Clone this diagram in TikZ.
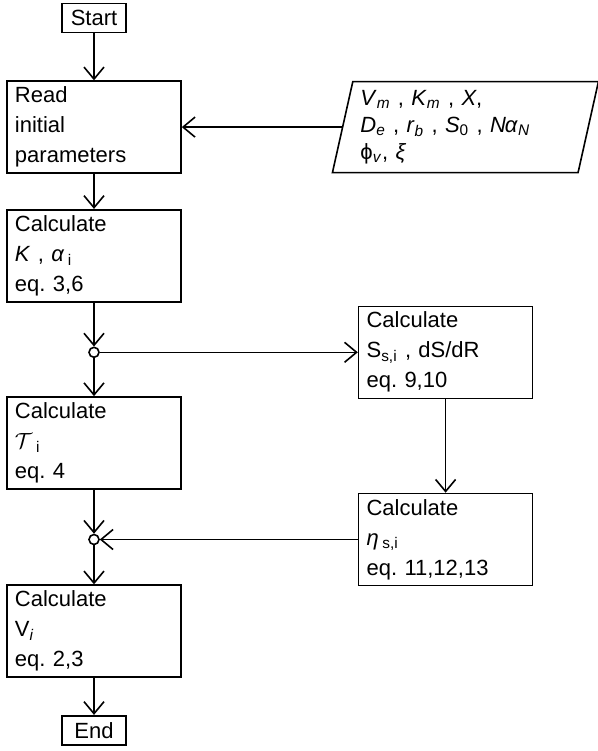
\documentclass[tikz,border=0pt]{standalone}
\usepackage{fontspec}
\setmainfont{Liberation Sans}
\usetikzlibrary{arrows.meta,positioning,shapes.geometric}
\newcommand\sbs[1]{\textsubscript{#1}}
\frenchspacing

\begin{document}
\begin{tikzpicture}[
  font=\fontsize{11}{15}\selectfont,
  term/.style={draw,line width=0.8pt,minimum width=32pt,minimum height=14.5pt,inner sep=0},
  blk/.style={draw,line width=0.8pt,minimum height=46pt,text width=79pt,inner xsep=4pt,
    inner ysep=1.5pt,align=left},
  io/.style={draw,line width=0.8pt,trapezium,trapezium left angle=76,trapezium right angle=104,
    trapezium stretches body=true,minimum width=133pt,minimum height=45.5pt,
    text width=105pt,align=left,inner sep=2pt,font=\fontsize{11}{13.5}\selectfont},
  jn/.style={draw,line width=0.8pt,circle,fill=white,minimum size=5pt,inner sep=0},
  arr/.style={-{Straight Barb[length=6pt,width=10pt]},line width=0.8pt}]
  \useasboundingbox (0,0) rectangle (299pt,-375.5pt);
  % main column
  \node[term] (start) at (47pt,-9pt) {Start};
  \node[blk,below=23.5pt of start] (read) {Read\\initial\\parameters};
  \node[blk,below=17.5pt of read] (kal) {Calculate\\\textit{K} , \textit{α}\,\sbs{i}\\eq. 3,6};
  \node[jn,below=22pt of kal] (j1) {};
  \node[blk,below=19pt of j1] (tau) {Calculate\\$\mathcal{T}$\,\sbs{i}\\eq. 4};
  \node[jn,below=22pt of tau] (j2) {};
  \node[blk,below=19.5pt of j2] (vel) {Calculate\\V\sbs{\textit{i}}\\eq. 2,3};
  \node[term,below=18.5pt of vel] (end) {End};
  % side column
  \node[io,right=80pt of read] (par) {\textit{V}\sbs{\textit{m}} , \textit{K}\sbs{\textit{m}} , \textit{X},\\
    \textit{D}\sbs{\textit{e}} , \textit{r}\sbs{\textit{b}} , \textit{S}\sbs{0} , \textit{N\kern-0.5ptα}\sbs{\textit{N}}\\
    ϕ\sbs{\textit{v}}, \textit{ξ}};
  \node[blk,right=129pt of j1] (surf) {Calculate\\S\sbs{s,i} , dS/dR\\eq. 9,10};
  \node[blk,right=129pt of j2] (eff) {Calculate\\\textit{η}\,\sbs{s,i}\\eq. 11,12,13};
  \draw[arr] (start) -- (read);
  \draw[arr] (par.west) -- (read.east);
  \draw[arr] (read) -- (kal);
  \draw[arr] (kal) -- (j1);
  \draw[arr] (j1) -- (tau);
  \draw[arr] (j1) -- (surf);
  \draw[arr] (surf) -- (eff);
  \draw[arr] (tau) -- (j2);
  \draw[arr] (eff) -- (j2);
  \draw[arr] (j2) -- (vel);
  \draw[arr] (vel) -- (end);
\end{tikzpicture}
\end{document}
